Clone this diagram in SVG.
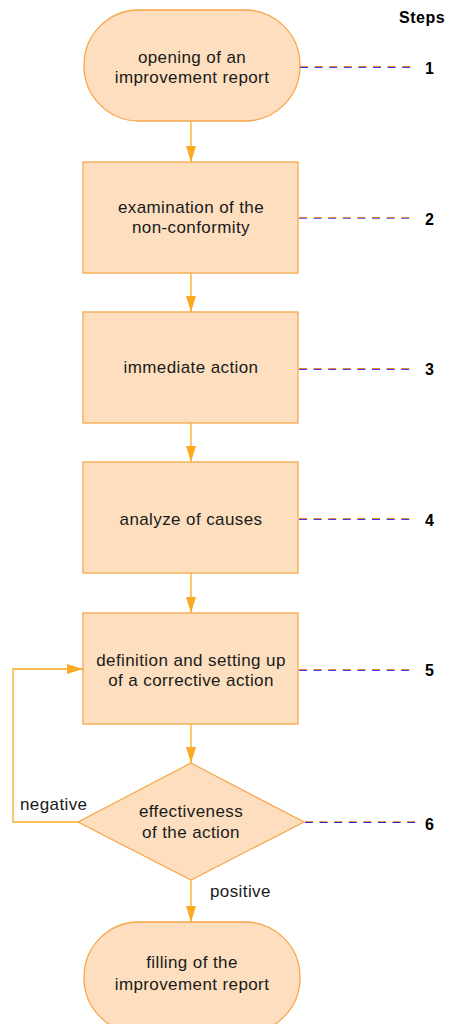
<svg xmlns="http://www.w3.org/2000/svg" width="451" height="1024" viewBox="0 0 451 1024">
<style>
.node{fill:#FDDFBF;stroke:#F8A64A;stroke-width:1.3}
.t{font-family:"Liberation Sans",Arial,sans-serif;font-size:17px;letter-spacing:0.4px;fill:#1a1a1a;text-anchor:middle}
.lbl{font-family:"Liberation Sans",Arial,sans-serif;font-size:17px;letter-spacing:0.4px;fill:#1a1a1a}
.num{font-family:"Liberation Sans",Arial,sans-serif;font-size:16px;font-weight:bold;fill:#000}
.conn{fill:none;stroke:#FBAA22;stroke-width:1.3}
.db{stroke:#3C3CF0;stroke-width:1;stroke-dasharray:8 6.6;fill:none}
.do{stroke:#F5822A;stroke-width:1;stroke-dasharray:8 6.6;fill:none}
</style>
<defs>
<marker id="ah" viewBox="0 0 16 10" refX="16" refY="5" markerWidth="16" markerHeight="11" markerUnits="userSpaceOnUse" orient="auto">
<path d="M0,0 L16,5 L0,10 Z" fill="#FBAA22"/>
</marker>
</defs>
<text class="num" x="399" y="23" letter-spacing="0.5">Steps</text>
<g id="connectors">
<line class="conn" x1="191" y1="121" x2="191" y2="162" marker-end="url(#ah)"/>
<line class="conn" x1="191" y1="273" x2="191" y2="312" marker-end="url(#ah)"/>
<line class="conn" x1="191" y1="423" x2="191" y2="462" marker-end="url(#ah)"/>
<line class="conn" x1="191" y1="573" x2="191" y2="613" marker-end="url(#ah)"/>
<line class="conn" x1="191" y1="724" x2="191" y2="763" marker-end="url(#ah)"/>
<line class="conn" x1="191" y1="880" x2="191" y2="922" marker-end="url(#ah)"/>
<polyline class="conn" points="78,822 13,822 13,669 83,669" marker-end="url(#ah)"/>
<text class="lbl" x="20" y="810">negative</text>
<text class="lbl" x="210" y="897">positive</text>
</g>
<g id="node1">
<rect class="node" x="84" y="10" width="216" height="111" rx="55" ry="55"/>
<text class="t" x="192" y="63">opening of an</text>
<text class="t" x="192" y="83">improvement report</text>
</g>
<g id="node2">
<rect class="node" x="83" y="162" width="215" height="111"/>
<text class="t" x="191" y="213">examination of the</text>
<text class="t" x="191" y="233">non-conformity</text>
</g>
<g id="node3">
<rect class="node" x="83" y="312" width="215" height="111"/>
<text class="t" x="191" y="373">immediate action</text>
</g>
<g id="node4">
<rect class="node" x="83" y="462" width="215" height="111"/>
<text class="t" x="191" y="525">analyze of causes</text>
</g>
<g id="node5">
<rect class="node" x="83" y="613" width="215" height="111"/>
<text class="t" x="191" y="666">definition and setting up</text>
<text class="t" x="191" y="686">of a corrective action</text>
</g>
<g id="node6">
<polygon class="node" points="191,763 304,822 191,880 78,822"/>
<text class="t" x="191" y="817">effectiveness</text>
<text class="t" x="191" y="838">of the action</text>
</g>
<g id="node7">
<rect class="node" x="84" y="922" width="216" height="111" rx="55" ry="55"/>
<text class="t" x="192" y="968">filling of the</text>
<text class="t" x="192" y="990">improvement report</text>
</g>
<g id="steps">
<line class="db" x1="300" y1="67.5" x2="415" y2="67.5"/>
<line class="do" x1="300" y1="66.5" x2="415" y2="66.5"/>
<text class="num" x="425" y="74">1</text>
<line class="do" x1="299" y1="217.5" x2="415" y2="217.5"/>
<line class="db" x1="299" y1="218.5" x2="415" y2="218.5" style="stroke:#6E6EF0"/>
<text class="num" x="425" y="225">2</text>
<line class="db" x1="299" y1="369.5" x2="415" y2="369.5"/>
<line class="do" x1="299" y1="368.5" x2="415" y2="368.5"/>
<text class="num" x="425" y="375">3</text>
<line class="db" x1="299" y1="519.5" x2="415" y2="519.5"/>
<line class="do" x1="299" y1="518.5" x2="415" y2="518.5"/>
<text class="num" x="425" y="526">4</text>
<line class="do" x1="299" y1="669.5" x2="415" y2="669.5"/>
<line class="db" x1="299" y1="670.5" x2="415" y2="670.5"/>
<text class="num" x="425" y="676">5</text>
<line class="db" x1="305" y1="822.5" x2="422" y2="822.5" style="stroke:#2828C8"/>
<line class="do" x1="305" y1="821.5" x2="422" y2="821.5" style="stroke:#F39A50"/>
<text class="num" x="425" y="830">6</text>
</g>
</svg>
